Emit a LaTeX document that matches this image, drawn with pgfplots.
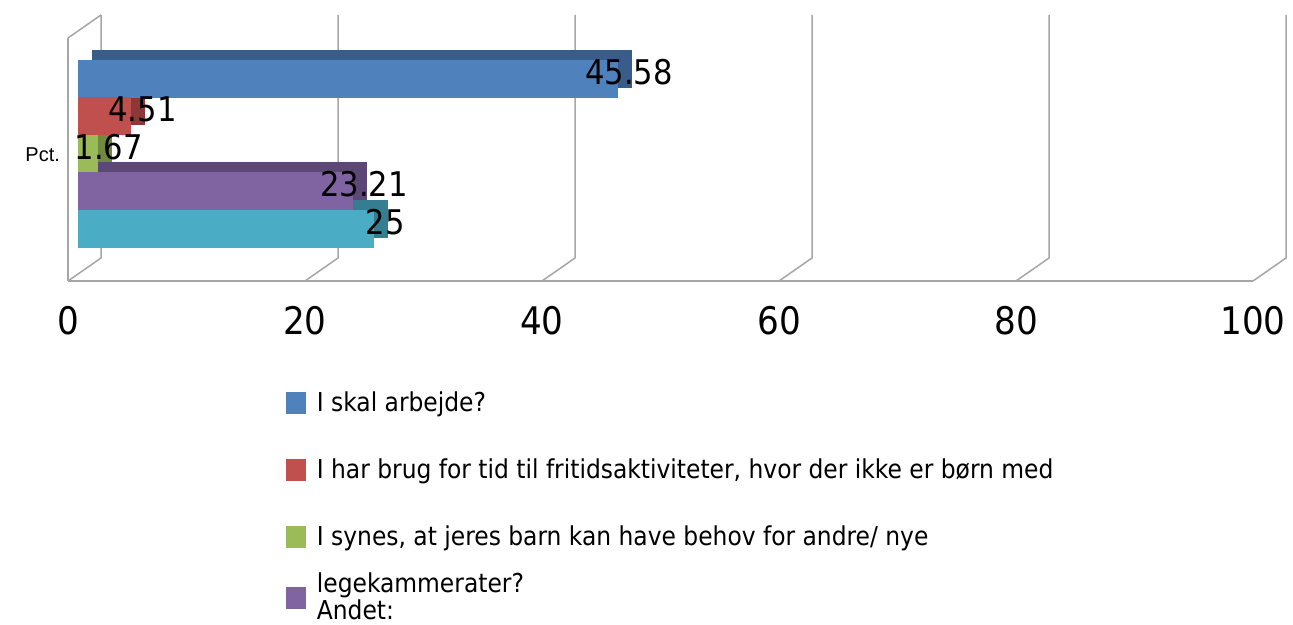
\documentclass[border=0pt]{standalone}
\usepackage{fontspec}
\setmainfont{DejaVu Sans Condensed}
\newfontfamily\arialf{Liberation Sans}
\usepackage{pgfplots}
\pgfplotsset{compat=1.18}
\definecolor{cblue}{HTML}{4F81BD}
\definecolor{cred}{HTML}{C0504D}
\definecolor{cgreen}{HTML}{9BBB59}
\definecolor{cpurple}{HTML}{8064A2}
\definecolor{ccyan}{HTML}{4BACC6}
\definecolor{dblue}{HTML}{385D8A}
\definecolor{dred}{HTML}{8C3836}
\definecolor{dgreen}{HTML}{71893F}
\definecolor{dpurple}{HTML}{5C4776}
\definecolor{dcyan}{HTML}{357D91}
\definecolor{gridc}{HTML}{A6A6A6}
\pgfplotsset{
  base/.style={scale only axis, width=592.5pt, height=121.5pt,
    xmin=0, xmax=100, ymin=0, ymax=6.48, anchor=south west,
    enlargelimits=false, clip=false},
  barax/.style={base, hide axis, xbar, bar shift=0pt, bar width=19pt},
  legax/.style={base, hide axis, at={(34pt,-140.5pt)},
    legend style={draw=none, fill=none, font=\fontsize{13}{13.5}\selectfont,
      xshift=-3pt, cells={anchor=west, align=left}},
    legend cell align=left,
    legend image code/.code={\fill[##1, draw=none] (0pt,-5.5pt) rectangle (10pt,5.5pt); \path (13pt,0pt);}},
}
\begin{document}
\begin{tikzpicture}
\path[use as bounding box] (0pt,0pt) rectangle (646.5pt,-312.5pt);
% back wall
\begin{axis}[base, hide axis, at={(50.5pt,-129pt)}]
\addplot[draw=none] coordinates {(0,0)};
\foreach \k in {0,20,...,100}{
  \edef\tmp{\noexpand\draw[gridc, line width=0.75pt] (axis cs:\k,6.48) -- (axis cs:\k,0) -- ++(-16.5pt,-11.5pt);}
  \tmp
}
\draw[gridc, line width=0.75pt] (axis cs:0,6.48) -- ++(-16.5pt,-11.5pt);
\end{axis}
% depth faces
\begin{axis}[barax, at={(46pt,-132pt)}]
\addplot[fill=dblue, draw=none] coordinates {(45.58,5.2)};
\addplot[fill=dred, draw=none] coordinates {(4.51,4.2)};
\addplot[fill=dgreen, draw=none] coordinates {(1.67,3.2)};
\addplot[fill=dpurple, draw=none] coordinates {(23.21,2.2)};
\addplot[fill=dcyan, draw=none] coordinates {(25,1.2)};
\end{axis}
% front faces
\begin{axis}[barax, at={(39pt,-137pt)}]
\addplot[fill=cblue, draw=none] coordinates {(45.58,5.2)};
\addplot[fill=cred, draw=none] coordinates {(4.51,4.2)};
\addplot[fill=cgreen, draw=none] coordinates {(1.67,3.2)};
\addplot[fill=cpurple, draw=none] coordinates {(23.21,2.2)};
\addplot[fill=ccyan, draw=none] coordinates {(25,1.2)};
\end{axis}
% front axis, ticks
\begin{axis}[base, at={(34pt,-140.5pt)},
  axis x line=bottom, axis y line=left,
  axis line style={draw=gridc, line width=1pt, -},
  xtick={0,20,...,100}, ytick={3.36}, yticklabels={Pct.},
  major tick length=0pt,
  /pgf/number format/assume math mode=true,
  xticklabel style={font=\fontsize{19}{19}\selectfont, yshift=-9pt},
  yticklabel style={font=\arialf\fontsize{10}{10}\selectfont, xshift=-0.5pt}]
\addplot[draw=none] coordinates {(0,0)};
\end{axis}
\begin{axis}[legax,
  legend style={at={(axis description cs:0.184,-0.7778)}, anchor=west, row sep=18pt}]
\addlegendimage{fill=cblue}
\addlegendentry{I skal arbejde?}
\addlegendimage{fill=cred}
\addlegendentry{I har brug for tid til fritidsaktiviteter, hvor der ikke er børn med}
\addlegendimage{fill=cgreen}
\addlegendentry{I synes, at jeres barn kan have behov for andre/ nye}
\end{axis}
\begin{axis}[legax,
  legend style={at={(axis description cs:0.184,-1.3045)}, anchor=west}]
\addlegendimage{fill=cpurple}
\addlegendentry{legekammerater?\\Andet:}
\end{axis}
% value labels
\begin{axis}[base, hide axis, at={(46pt,-132pt)},
  nodes near coords, point meta=explicit symbolic,
  every node near coord/.append style={anchor=center, font=\fontsize{17}{17}\selectfont, xshift=-1.5pt, yshift=-1.5pt, inner sep=0pt}]
\addplot[draw=none, mark=none] coordinates {(45.58,5.2) [45.58] (4.51,4.2) [4.51] (1.67,3.2) [1.67] (23.21,2.2) [23.21] (25,1.2) [25]};
\end{axis}
\end{tikzpicture}
\end{document}
